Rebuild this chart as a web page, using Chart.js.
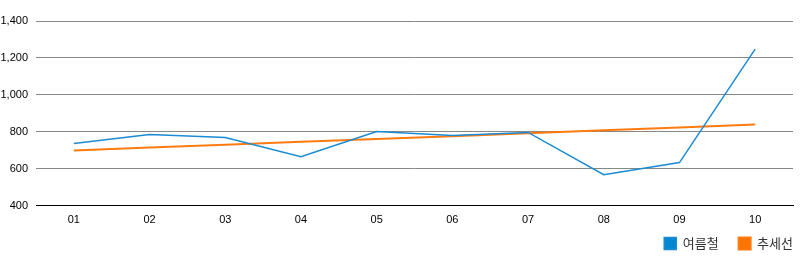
<!DOCTYPE html>
<html><head><meta charset="utf-8">
<script src="https://cdn.jsdelivr.net/npm/chart.js@4/dist/chart.umd.min.js"></script>
<style>html,body{margin:0;padding:0;background:#fff}#wrap{width:800px;height:262px}</style>
</head><body><div id="wrap"><canvas id="c"></canvas></div>
<script>
const categories = ['01','02','03','04','05','06','07','08','09','10'];
const summer = [737, 786, 770, 666, 802, 780, 797, 568, 634, 1248];
const trend = [699, 715, 730, 746, 762, 777, 793, 809, 824, 840];
const seriesNames = ['여름철', '추세선'];
const yTicks = [400, 600, 800, 1000, 1200, 1400];

Chart.defaults.font.family = 'Arial, "Liberation Sans", "Noto Sans CJK KR", sans-serif';
Chart.defaults.color = '#000';

const legendShift = {
  id: 'legendShift',
  afterLayout(chart) {
    const lg = chart.legend;
    if (!lg) return;
    const dx = 20, dy = -18;
    lg.left += dx; lg.right += dx;
    lg.top += dy; lg.bottom += dy;
  }
};

new Chart(document.getElementById('c'), {
  type: 'line',
  data: {
    labels: categories,
    datasets: [
      {label: seriesNames[0], data: summer, borderColor: '#1b8bd3', backgroundColor: '#0288d1', borderWidth: 1.5, pointRadius: 0, tension: 0},
      {label: seriesNames[1], data: trend, borderColor: '#ff7b10', backgroundColor: '#ff7300', borderWidth: 2, pointRadius: 0, tension: 0}
    ]
  },
  plugins: [legendShift],
  options: {
    responsive: true, maintainAspectRatio: false, animation: false,
    layout: {padding: {left: 0, right: 7, top: 21, bottom: -16}},
    plugins: {
      tooltip: {enabled: false},
      legend: {position: 'bottom', align: 'end',
        labels: {boxWidth: 12, boxHeight: 12, padding: 20, font: {size: 13, family: '"Noto Sans CJK KR", sans-serif'}, color: '#333'}}
    },
    scales: {
      x: {offset: true, grid: {display: false, drawTicks: false}, border: {color: '#000', width: 1},
        ticks: {font: {size: 11}, padding: 8, maxRotation: 0}},
      y: {min: 400, max: 1400, afterBuildTicks: a => { a.ticks = yTicks.map(v => ({value: v})); },
        grid: {color: '#888', drawTicks: false}, border: {display: false},
        ticks: {font: {size: 11}, padding: 8, callback: v => v.toLocaleString('en-US')},
        afterFit: s => { s.width = 36; }}
    }
  }
});
</script></body></html>
